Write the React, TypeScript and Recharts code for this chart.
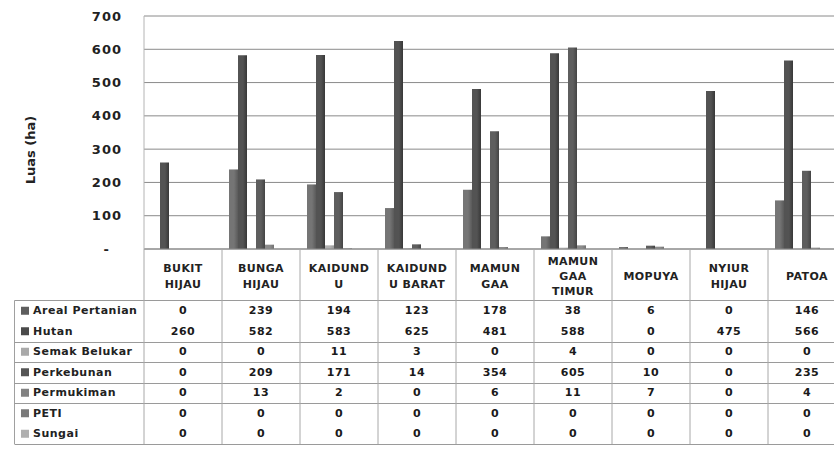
import { BarChart, Bar, XAxis, YAxis, CartesianGrid, Label } from "recharts";

// desa / kelurahan
const categories = [
  "BUKIT HIJAU",
  "BUNGA HIJAU",
  "KAIDUNDU",
  "KAIDUNDU BARAT",
  "MAMUNGAA",
  "MAMUNGAA TIMUR",
  "MOPUYA",
  "NYIUR HIJAU",
  "PATOA",
];

// wrapped header labels as they appear in the table
const categoryLines = [
  ["BUKIT", "HIJAU"],
  ["BUNGA", "HIJAU"],
  ["KAIDUND", "U"],
  ["KAIDUND", "U BARAT"],
  ["MAMUN", "GAA"],
  ["MAMUN", "GAA", "TIMUR"],
  ["MOPUYA"],
  ["NYIUR", "HIJAU"],
  ["PATOA"],
];

const arealPertanian = [0, 239, 194, 123, 178, 38, 6, 0, 146];
const hutan = [260, 582, 583, 625, 481, 588, 0, 475, 566];
const semakBelukar = [0, 0, 11, 3, 0, 4, 0, 0, 0];
const perkebunan = [0, 209, 171, 14, 354, 605, 10, 0, 235];
const permukiman = [0, 13, 2, 0, 6, 11, 7, 0, 4];
const peti = [0, 0, 0, 0, 0, 0, 0, 0, 0];
const sungai = [0, 0, 0, 0, 0, 0, 0, 0, 0];

const yTicks = [0, 100, 200, 300, 400, 500, 600, 700];

const series = [
  { key: "areal", name: "Areal Pertanian", values: arealPertanian, light: "#757575", dark: "#5a5a5a", marker: "#5e5e5e" },
  { key: "hutan", name: "Hutan", values: hutan, light: "#535353", dark: "#383838", marker: "#4a4a4a" },
  { key: "semak", name: "Semak Belukar", values: semakBelukar, light: "#b2b2b2", dark: "#9a9a9a", marker: "#a9a9a9" },
  { key: "kebun", name: "Perkebunan", values: perkebunan, light: "#5e5e5e", dark: "#444444", marker: "#555555" },
  { key: "mukim", name: "Permukiman", values: permukiman, light: "#8c8c8c", dark: "#727272", marker: "#828282" },
  { key: "peti", name: "PETI", values: peti, light: "#7c7c7c", dark: "#636363", marker: "#7a7a7a" },
  { key: "sungai", name: "Sungai", values: sungai, light: "#bfbfbf", dark: "#a6a6a6", marker: "#b0b0b0" },
];

const chartData = categories.map((name, i) => {
  const row: Record<string, string | number> = { name };
  series.forEach((s) => {
    row[s.key] = s.values[i];
  });
  return row;
});

const FONT = "'DejaVu Sans', Verdana, sans-serif";
const CHART_W = 846;
const CHART_H = 450;
const PLOT_TOP = 16;
const PLOT_BOTTOM = 249;
const TABLE_LEFT = 14.5;
const TABLE_TOP = 300.5;
const ROW_H = 20.5;
const TABLE_BOTTOM = TABLE_TOP + ROW_H * series.length;
// rows whose lower rule is visible in the original
const ruledRows = [1, 2, 3, 4, 6];

const rowCenter = (r: number) => TABLE_TOP + ROW_H * r + ROW_H / 2;

const LegendColumn = ({ right }: { right: number }) => (
  <g>
    <line x1={TABLE_LEFT} x2={TABLE_LEFT} y1={TABLE_TOP} y2={TABLE_BOTTOM} stroke="#a0a0a0" />
    <line x1={TABLE_LEFT} x2={CHART_W} y1={TABLE_TOP} y2={TABLE_TOP} stroke="#9a9a9a" />
    {ruledRows.map((r) => {
      const y = Math.round(TABLE_TOP + ROW_H * (r + 1)) + 0.5;
      return <line key={r} x1={TABLE_LEFT} x2={CHART_W} y1={y} y2={y} stroke="#9a9a9a" />;
    })}
    {series.map((s, r) => (
      <g key={s.key}>
        <rect x={21} y={rowCenter(r) - 4} width={8} height={8} fill={s.marker} />
        <text
          x={33}
          y={rowCenter(r)}
          dominantBaseline="central"
          fontFamily={FONT}
          fontSize={11}
          fontWeight={700}
          letterSpacing={0.5}
          fill="#222"
        >
          {s.name}
        </text>
      </g>
    ))}
    <line x1={right} x2={right} y1={PLOT_BOTTOM} y2={TABLE_BOTTOM} stroke="#a8a8a8" />
  </g>
);

const TableColumn = (props: any) => {
  const { x, index, width, visibleTicksCount } = props;
  const band = (width || 701) / (visibleTicksCount || categories.length);
  const left = x - band / 2;
  const lines = categoryLines[index] || [];
  const gap = lines.length === 3 ? 15 : 16;
  const mid = 276;
  return (
    <g>
      {index === 0 && <LegendColumn right={left} />}
      {index > 0 && (
        <line x1={left} x2={left} y1={PLOT_BOTTOM} y2={TABLE_BOTTOM} stroke="#a8a8a8" />
      )}
      {lines.map((t, j) => (
        <text
          key={j}
          x={x}
          y={mid + (j - (lines.length - 1) / 2) * gap}
          textAnchor="middle"
          dominantBaseline="central"
          fontFamily={FONT}
          fontSize={11}
          fontWeight={700}
          letterSpacing={0.4}
          fill="#222"
        >
          {t}
        </text>
      ))}
      {series.map((s, r) => (
        <text
          key={s.key}
          x={x}
          y={rowCenter(r)}
          textAnchor="middle"
          dominantBaseline="central"
          fontFamily={FONT}
          fontSize={11}
          fontWeight={700}
          letterSpacing={0.5}
          fill="#1a1a1a"
        >
          {s.values[index]}
        </text>
      ))}
    </g>
  );
};

const YTick = (props: any) => {
  const { y, payload } = props;
  const v = payload.value;
  return (
    <text
      x={v === 0 ? 110 : 122}
      y={y}
      textAnchor="end"
      dominantBaseline="central"
      fontFamily={FONT}
      fontSize={13}
      fontWeight={700}
      letterSpacing={1}
      fill="#222"
    >
      {v === 0 ? "-" : v}
    </text>
  );
};

const YTitle = () => (
  <text
    x={30}
    y={150}
    transform="rotate(-90, 30, 150)"
    textAnchor="middle"
    dominantBaseline="central"
    fontFamily={FONT}
    fontSize={13}
    fontWeight={700}
    fill="#222"
  >
    Luas (ha)
  </text>
);

export default function App() {
  return (
    <div
      style={{
        position: "absolute",
        left: 0,
        top: 0,
        width: 834,
        height: 450,
        overflow: "hidden",
        background: "#fff",
      }}
    >
      <BarChart
        width={CHART_W}
        height={CHART_H}
        data={chartData}
        margin={{ top: PLOT_TOP, right: 0, bottom: 0, left: 0 }}
        barCategoryGap={7}
        barGap={0}
      >
        <defs>
          {series.map((s) => (
            <linearGradient key={s.key} id={`g-${s.key}`} x1="0" y1="0" x2="1" y2="0">
              <stop offset="0%" stopColor={s.light} />
              <stop offset="55%" stopColor={s.light} />
              <stop offset="100%" stopColor={s.dark} />
            </linearGradient>
          ))}
        </defs>
        <CartesianGrid vertical={false} stroke="#8a8a8a" />
        <XAxis
          dataKey="name"
          height={CHART_H - PLOT_BOTTOM}
          interval={0}
          tickLine={false}
          axisLine={{ stroke: "#8a8a8a" }}
          tick={<TableColumn />}
        />
        <YAxis
          width={144}
          domain={[0, 700]}
          ticks={yTicks}
          interval={0}
          tickLine={false}
          axisLine={{ stroke: "#b4b4b4" }}
          tick={<YTick />}
        >
          <Label content={<YTitle />} />
        </YAxis>
        {series.map((s) => (
          <Bar
            key={s.key}
            dataKey={s.key}
            name={s.name}
            fill={`url(#g-${s.key})`}
            isAnimationActive={false}
          />
        ))}
      </BarChart>
    </div>
  );
}
